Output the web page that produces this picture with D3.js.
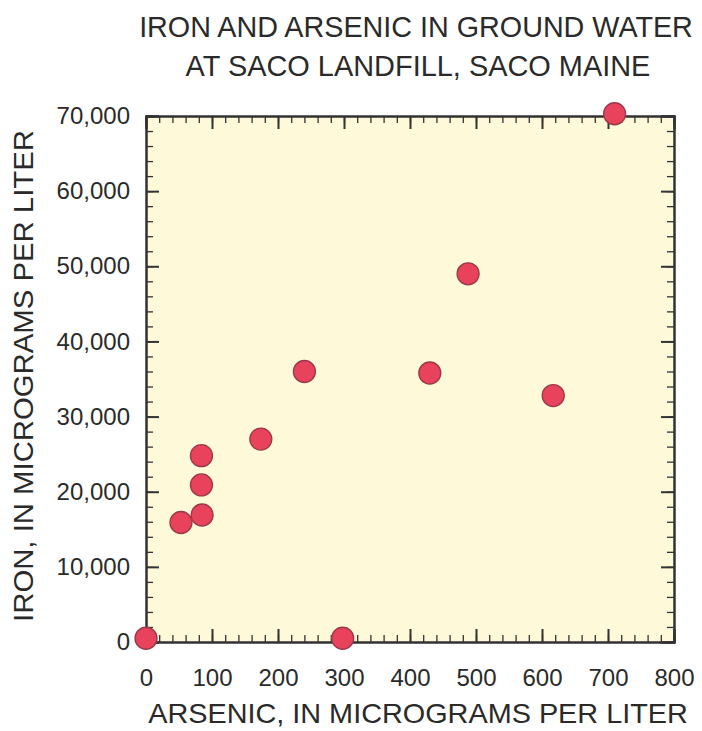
<!DOCTYPE html>
<html>
<head>
<meta charset="utf-8">
<script src="https://cdn.jsdelivr.net/npm/d3@7"></script>
<style>
  body { margin: 0; background: #fff; }
  svg { display: block; font-family: "Liberation Sans", Arial, sans-serif; }
  .axis path { stroke: #333; stroke-width: 2; }
  .axis line { stroke: #333; stroke-width: 2; }
  .minor line { stroke: #333; stroke-width: 1.3; }
  .axis text { font-size: 24px; fill: #2a2a2a; }
</style>
</head>
<body>
<script>
"use strict";

// arsenic (ug/L) and iron (ug/L) for each well
var arsenic = [0, 298, 53, 85, 84, 84, 174, 240, 430, 488, 617, 710];
var iron = [500, 500, 15900, 16900, 20900, 24800, 27000, 36000, 35800, 49000, 32800, 70300];

var xTicks = [0, 100, 200, 300, 400, 500, 600, 700, 800];
var yTicks = [0, 10000, 20000, 30000, 40000, 50000, 60000, 70000];
var xMinor = d3.range(0, 801, 20);
var yMinor = d3.range(0, 70001, 2000);

var titleLines = ["IRON AND ARSENIC IN GROUND WATER", "AT SACO LANDFILL, SACO MAINE"];
var xTitle = "ARSENIC, IN MICROGRAMS PER LITER";
var yTitle = "IRON, IN MICROGRAMS PER LITER";

var width = 702, height = 731;
var plotLeft = 146, plotRight = 674, plotTop = 116, plotBottom = 642;

var svg = d3.select("body").append("svg")
	.attr("width", width)
	.attr("height", height);

var x = d3.scaleLinear().domain([0, 800]).range([plotLeft, plotRight]);
var y = d3.scaleLinear().domain([0, 70000]).range([plotBottom, plotTop]);

svg.append("rect")
	.attr("x", plotLeft).attr("y", plotTop)
	.attr("width", plotRight - plotLeft).attr("height", plotBottom - plotTop)
	.attr("fill", "#fdf9d9");

// minor ticks on all four sides
svg.append("g").attr("class", "axis minor").attr("transform", "translate(0," + plotBottom + ")")
	.call(d3.axisBottom(x).tickValues(xMinor).tickSize(-7).tickFormat(""));
svg.append("g").attr("class", "axis minor").attr("transform", "translate(0," + plotTop + ")")
	.call(d3.axisTop(x).tickValues(xMinor).tickSize(-7).tickFormat(""));
svg.append("g").attr("class", "axis minor").attr("transform", "translate(" + plotLeft + ",0)")
	.call(d3.axisLeft(y).tickValues(yMinor).tickSize(-7).tickFormat(""));
svg.append("g").attr("class", "axis minor").attr("transform", "translate(" + plotRight + ",0)")
	.call(d3.axisRight(y).tickValues(yMinor).tickSize(-7).tickFormat(""));

// major ticks
svg.append("g").attr("class", "axis").attr("transform", "translate(0," + plotBottom + ")")
	.call(d3.axisBottom(x).tickValues(xTicks).tickSize(-13).tickPadding(27).tickFormat(d3.format("d")));
svg.append("g").attr("class", "axis").attr("transform", "translate(0," + plotTop + ")")
	.call(d3.axisTop(x).tickValues(xTicks).tickSize(-13).tickFormat(""));
svg.append("g").attr("class", "axis").attr("transform", "translate(" + plotLeft + ",0)")
	.call(d3.axisLeft(y).tickValues(yTicks).tickSize(-13).tickPadding(16).tickFormat(d3.format(",")));
svg.append("g").attr("class", "axis").attr("transform", "translate(" + plotRight + ",0)")
	.call(d3.axisRight(y).tickValues(yTicks).tickSize(-13).tickFormat(""));

// points
svg.append("g").selectAll("circle")
	.data(arsenic)
	.join("circle")
	.attr("cx", function(d) { return x(d); })
	.attr("cy", function(d, i) { return y(iron[i]); })
	.attr("r", 11)
	.attr("fill", "#e8425c")
	.attr("stroke", "#9a3a48")
	.attr("stroke-width", 1.3);

// squeeze a centred label horizontally so it spans the given width
function narrowText(cx, cy, angle, size, span, label) {
	var g = svg.append("g").attr("transform", "translate(" + cx + "," + cy + ") rotate(" + angle + ")");
	var t = g.append("text")
		.attr("text-anchor", "middle")
		.attr("font-size", size).attr("fill", "#2a2a2a")
		.text(label);
	var k = span / t.node().getComputedTextLength();
	t.attr("transform", "scale(" + k + ",1)");
	return t;
}

narrowText(416, 37, 0, 30, 554, titleLines[0]);
narrowText(418, 76, 0, 30, 465, titleLines[1]);
narrowText(418, 723, 0, 28, 540, xTitle);
narrowText(33, 376, -90, 28, 492, yTitle);
</script>
</body>
</html>
